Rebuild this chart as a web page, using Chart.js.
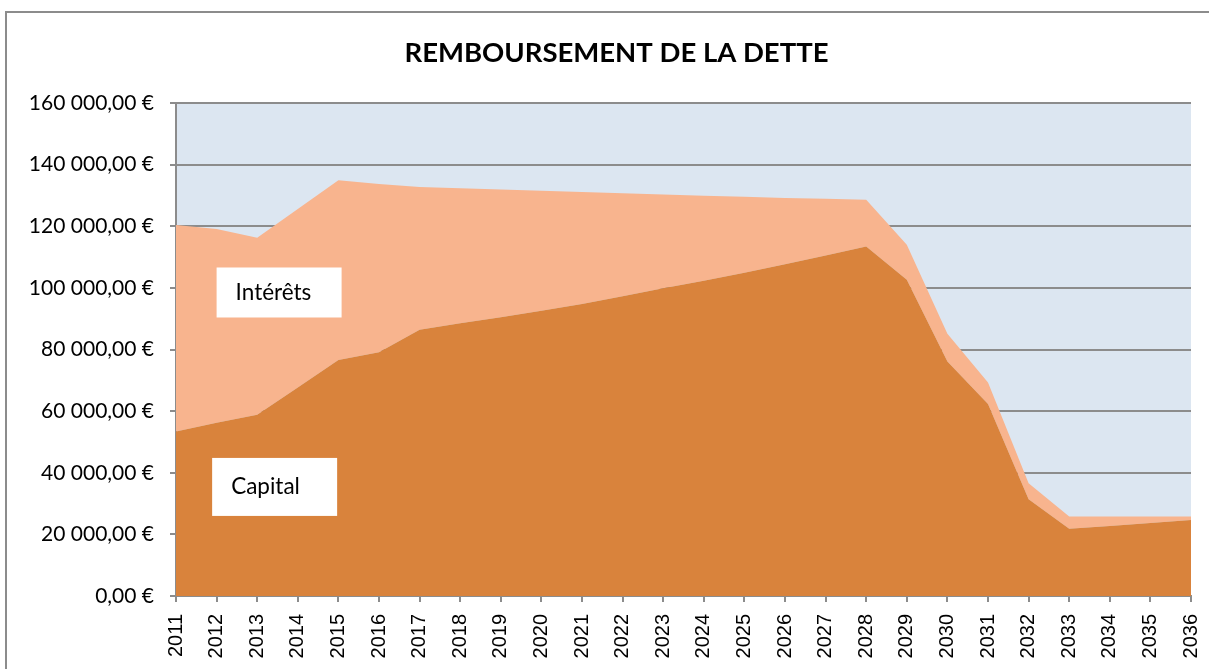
<!DOCTYPE html>
<html>
<head>
<meta charset="utf-8">
<script src="https://cdn.jsdelivr.net/npm/chart.js@4"></script>
<style>
  html, body { margin: 0; padding: 0; background: #fff; overflow: hidden; }
  #wrap { position: relative; width: 1209px; height: 669px; }
  #frame { position: absolute; left: 5px; top: 11px; width: 1300px; height: 700px;
           border: 2px solid #8c8c8c; pointer-events: none; box-sizing: border-box; }
</style>
</head>
<body>
<div id="wrap">
  <canvas id="detteChart" width="1209" height="669"></canvas>
  <div id="frame"></div>
</div>
<script>
// Years on the x axis
const annees = ['2011','2012','2013','2014','2015','2016','2017','2018','2019','2020',
  '2021','2022','2023','2024','2025','2026','2027','2028','2029','2030',
  '2031','2032','2033','2034','2035','2036'];

// Capital repaid each year (EUR)
const capital = [53400, 56200, 58800, 67700, 76600, 79100, 86400, 88500, 90500, 92600,
  94800, 97300, 99900, 102300, 104900, 107700, 110500, 113400, 102600, 76100,
  62300, 31400, 21800, 22700, 23700, 24700];

// Interest paid each year (EUR), stacked on top of capital
const interets = [67000, 62900, 57500, 57900, 58300, 54600, 46300, 43800, 41400, 38900,
  36300, 33400, 30400, 27600, 24700, 21500, 18400, 15200, 11400, 9000,
  7000, 5200, 4000, 3100, 2100, 1100];

// Y axis ticks
const yTicks = [0, 20000, 40000, 60000, 80000, 100000, 120000, 140000, 160000];

const titre = 'REMBOURSEMENT DE LA DETTE';

// Text boxes inside the plot: [text, x index where box starts, y value of box centre, box height]
const etiquettes = [
  ['Intérêts', 1.0, 98500, 50],
  ['Capital', 0.89, 35400, 58]
];

function formatEuro(v) {
  const s = Math.round(v).toString().replace(/\B(?=(\d{3})+(?!\d))/g, ' ');
  return s + ',00 €';
}

// fill the plot area with light blue + draw the title
const fondPlot = {
  id: 'fondPlot',
  beforeDraw(chart) {
    const a = chart.chartArea, c = chart.ctx;
    c.save();
    c.fillStyle = '#dce6f1';
    c.fillRect(a.left, a.top, a.right - a.left, a.bottom - a.top);
    // title, centred on the outer frame (which runs past the right edge)
    c.fillStyle = '#000';
    c.font = 'bold 27.5px Lato, "Open Sans", sans-serif';
    c.textAlign = 'center';
    c.textBaseline = 'middle';
    c.fillText(titre, chart.width / 2 + 12, 53);
    c.restore();
  }
};

// white label boxes "Intérêts" / "Capital"
const boites = {
  id: 'boites',
  afterDatasetsDraw(chart) {
    const c = chart.ctx, xs = chart.scales.x, ys = chart.scales.y;
    const step = xs.getPixelForValue(1) - xs.getPixelForValue(0);
    c.save();
    c.font = '22.5px Lato, "Open Sans", sans-serif';
    c.textBaseline = 'middle';
    etiquettes.forEach(([txt, xi, yv, h]) => {
      const x = xs.getPixelForValue(0) + xi * step;
      const y = ys.getPixelForValue(yv);
      const w = 125;
      c.fillStyle = '#ffffff';
      c.fillRect(x, y - h / 2, w, h);
      c.fillStyle = '#000000';
      c.fillText(txt, x + 19, y);
    });
    c.restore();
  }
};

const ctx = document.getElementById('detteChart').getContext('2d');
new Chart(ctx, {
  type: 'line',
  data: {
    labels: annees,
    datasets: [
      {
        label: 'Capital',
        data: capital,
        backgroundColor: '#d9833c',
        borderWidth: 0,
        pointRadius: 0,
        tension: 0,
        fill: 'origin'
      },
      {
        label: 'Intérêts',
        data: interets,
        backgroundColor: '#f8b48e',
        borderWidth: 0,
        pointRadius: 0,
        tension: 0,
        fill: '-1'
      }
    ]
  },
  options: {
    responsive: false,
    animation: false,
    layout: { padding: { left: 0, right: 18, top: 103, bottom: 0 } },
    scales: {
      x: {
        offset: false,
        ticks: {
          minRotation: 90,
          maxRotation: 90,
          autoSkip: false,
          padding: 12,
          color: '#000',
          font: { family: '"Liberation Sans", Arial, sans-serif', size: 20 }
        },
        grid: {
          display: true,
          drawOnChartArea: false,
          drawTicks: true,
          tickLength: 6,
          color: '#8c8c8c',
          lineWidth: 2
        },
        border: { display: true, color: '#8c8c8c', width: 2 },
        afterFit(scale) {
          scale.height = 73;
          scale.paddingLeft = 0;
          scale.paddingRight = 0;
        }
      },
      y: {
        stacked: true,
        min: 0,
        max: 160000,
        afterBuildTicks(scale) { scale.ticks = yTicks.map(v => ({ value: v })); },
        ticks: {
          padding: 16,
          color: '#000',
          font: { family: 'Lato, "Open Sans", sans-serif', size: 21 },
          callback: v => formatEuro(v)
        },
        grid: {
          color: '#8c8c8c',
          lineWidth: 2,
          tickLength: 6
        },
        border: { display: true, color: '#8c8c8c', width: 2 },
        afterFit(scale) { scale.width = 176; }
      }
    },
    plugins: {
      legend: { display: false },
      tooltip: { enabled: false },
      title: { display: false }
    }
  },
  plugins: [fondPlot, boites]
});
</script>
</body>
</html>
